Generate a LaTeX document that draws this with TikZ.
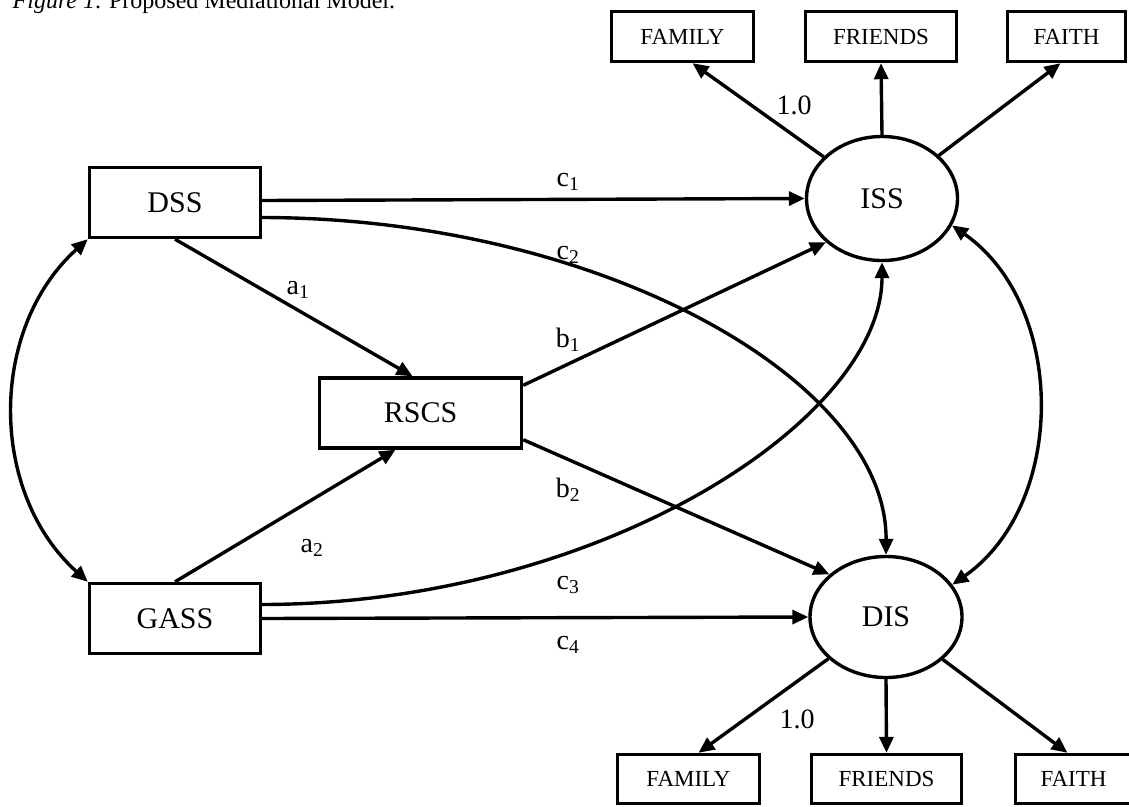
\documentclass[tikz,border=0pt]{standalone}
\usepackage{fontspec}
\setmainfont{Liberation Serif}
\usetikzlibrary{arrows.meta,shapes.geometric}
\begin{document}
\begin{tikzpicture}[x=1pt,y=-1pt,
  every node/.style={inner sep=0pt},
  obs/.style={draw,line width=3.4pt,minimum width=171pt,minimum height=70pt,font=\fontsize{30}{36}\selectfont},
  lat/.style={draw,ellipse,line width=3.4pt,font=\fontsize{30}{36}\selectfont},
  ind/.style={draw,line width=3.4pt,minimum height=50pt,font=\fontsize{23}{28}\selectfont},
  lbl/.style={font=\fontsize{28}{33}\selectfont},
  conn/.style={line width=3.4pt,-{Triangle[length=16pt,width=14pt]}},
  twoway/.style={line width=3.4pt,{Triangle[length=16pt,width=14pt]}-{Triangle[length=16pt,width=14pt]}}
]
\useasboundingbox (0,0) rectangle (1129,806);

% caption
\node[anchor=base west,font=\fontsize{24}{29}\selectfont] (title) at (12.5,8)
  {\textit{Figure 1}. Proposed Mediational Model.};

% observed predictors and mediator
\node[obs] (DSS)  at (175,202.5) {DSS};
\node[obs] (GASS) at (175,618.5) {GASS};
\node[obs,minimum width=202pt] (RSCS) at (420.5,413) {RSCS};

% latent outcomes
\node[lat,minimum width=151pt,minimum height=124pt] (ISS) at (882,198.5) {ISS};
\node[lat,minimum width=152pt,minimum height=121pt] (DIS) at (886,617) {DIS};

% indicators of ISS
\node[ind,minimum width=142pt] (famT) at (682.5,36.5) {FAMILY};
\node[ind,minimum width=151pt] (friT) at (881,36.5) {FRIENDS};
\node[ind,minimum width=118pt] (faiT) at (1066.5,36.5) {FAITH};

% indicators of DIS
\node[ind,minimum width=142pt,minimum height=49pt] (famB) at (688.5,779) {FAMILY};
\node[ind,minimum width=150pt,minimum height=49pt] (friB) at (886.5,779) {FRIENDS};
\node[ind,minimum width=116pt,minimum height=49pt] (faiB) at (1073.5,779) {FAITH};

% measurement paths
\draw[conn] (ISS) -- ([xshift=10pt]famT.south);
\draw[conn] (ISS.north) -- (friT.south);
\draw[conn] (ISS) -- ([xshift=-6pt]faiT.south);
\draw[conn] (DIS) -- ([xshift=10pt]famB.north);
\draw[conn] (DIS.south) -- (friB.north);
\draw[conn] (DIS) -- ([xshift=-6pt]faiB.north);
\node[lbl] (l1T) at (794,105) {1.0};
\node[lbl] (l1B) at (797,719) {1.0};

% structural paths
\draw[conn] ([yshift=2pt]DSS.east) -- (ISS.west);
\draw[conn] ([yshift=-15pt]DSS.east) .. controls (600,218) and (887,380) .. (DIS.north);
\draw[conn] (DSS.south) -- ([xshift=-8pt]RSCS.north);
\draw[conn] (GASS.north) -- ([xshift=-25pt]RSCS.south);
\draw[conn] ([yshift=-9pt]RSCS.north east) -- (ISS.218);
\draw[conn] ([yshift=10pt]RSCS.south east) -- (DIS.143);
\draw[conn] ([yshift=14pt]GASS.east) .. controls (600,604) and (882,420) .. (ISS.south);
\draw[conn] (GASS.east) -- (DIS.west);

% covariances
\draw[twoway] (DSS.south west) to[bend right=48] (GASS.north west);
\draw[twoway] (ISS.-21) to[bend left=55] (DIS.26);

% path labels
\node[lbl] (a1) at (298,290) {a\textsubscript{1}};
\node[lbl] (a2) at (312,548) {a\textsubscript{2}};
\node[lbl] (b1) at (568,340) {b\textsubscript{1}};
\node[lbl] (b2) at (568,490) {b\textsubscript{2}};
\node[lbl] (c1) at (568,182) {c\textsubscript{1}};
\node[lbl] (c2) at (568,255) {c\textsubscript{2}};
\node[lbl] (c3) at (568,585) {c\textsubscript{3}};
\node[lbl] (c4) at (568,645) {c\textsubscript{4}};
\end{tikzpicture}
\end{document}
